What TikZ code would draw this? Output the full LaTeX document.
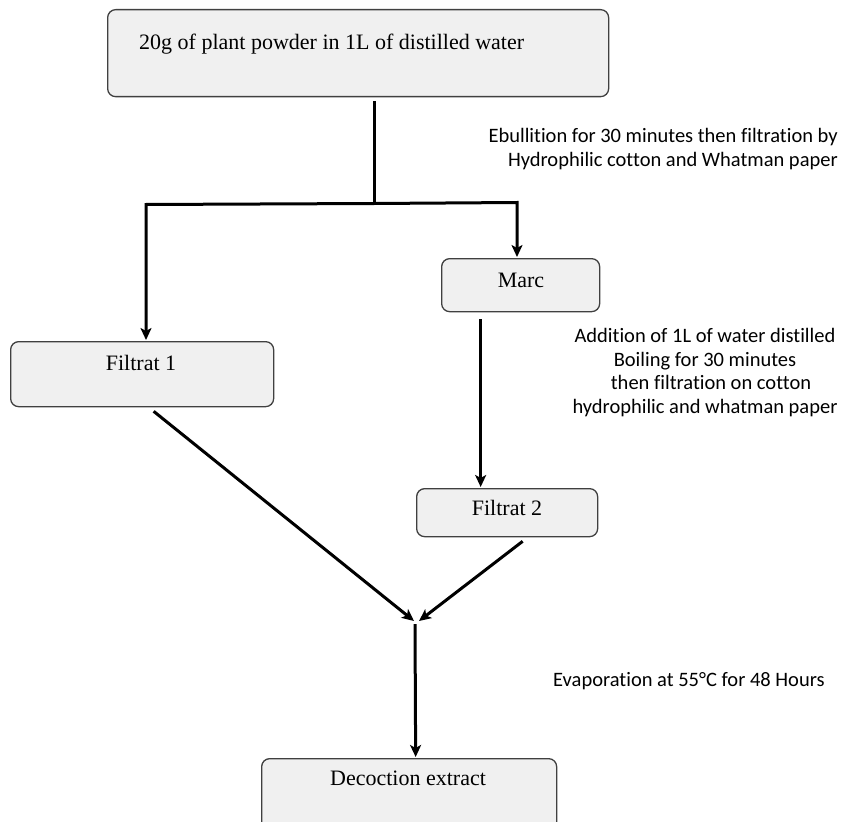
\documentclass[tikz,border=0pt]{standalone}
\usepackage{fontspec}
\setmainfont{Liberation Serif}
\newfontfamily\lblfont[Ligatures=NoCommon]{Carlito}
\usetikzlibrary{arrows.meta}
\begin{document}
\begin{tikzpicture}[x=1pt,y=-1pt,
  box/.style={draw=black!75, line width=1.3pt, fill=black!6, rounded corners=8pt, inner sep=0pt, anchor=north west},
  flow/.style={line width=3pt, line join=miter, -{Stealth[length=12pt,width=11pt,inset=3pt]}},
  plain/.style={line width=3pt},
  boxtext/.style={font=\fontsize{22}{26}\selectfont, inner sep=0pt},
  note/.style={font=\lblfont\fontsize{20.5}{23.5}\selectfont, inner sep=0pt}]
\useasboundingbox (0,0) rectangle (842,821);
% boxes
\node[box, minimum width=501pt, minimum height=87pt] (top) at (107,9) {};
\node[box, minimum width=158pt, minimum height=53pt] (marc) at (441,258) {};
\node[box, minimum width=263pt, minimum height=65pt] (f1) at (10,341) {};
\node[box, minimum width=181pt, minimum height=48pt] (f2) at (416,488) {};
\node[box, minimum width=295pt, minimum height=90pt] (dec) at (261,758) {};
% box texts
\node[boxtext, anchor=base west] (toptext) at (139,50) {20g of plant powder in 1L of distilled water};
\node[boxtext, anchor=base] (marctext) at (521,287) {Marc};
\node[boxtext, anchor=base] (f1text) at (141,370) {Filtrat 1};
\node[boxtext, anchor=base] (f2text) at (507,515) {Filtrat 2};
\node[boxtext, anchor=base] (dectext) at (408,785) {Decoction extract};
% connectors
\coordinate (split) at (374,203.5);
\coordinate (jl) at (146,204.5);
\coordinate (jr) at (517,202.5);
\draw[plain] ([yshift=-4pt]split |- top.south) -- (split);
\draw[flow] (split) -- (jl) -- ([yshift=1pt]jl |- f1.north);
\draw[flow] (split) -- (jr) -- ([yshift=1pt]jr |- marc.north);
\draw[flow] ([xshift=-40pt,yshift=-7pt]marc.south) -- ([xshift=-26.5pt,yshift=1pt]f2.north);
\coordinate (mL) at (414,621);
\coordinate (mR) at (419,621);
\coordinate (mB) at (415,624);
\draw[flow] ([xshift=11.5pt,yshift=-4pt]f1.south) -- (mL);
\draw[flow] ([xshift=15.5pt,yshift=-4pt]f2.south) -- (mR);
\draw[flow] (mB) -- ([xshift=6.5pt,yshift=1pt]dec.north);
% notes (base anchor = baseline of the last line)
\node[note, anchor=base east, align=right] (n1) at (838,166) {Ebullition for 30 minutes then filtration by\\Hydrophilic cotton and Whatman paper};
\node[note, anchor=base, align=center] (n2) at (705,413) {Addition of 1L of water distilled\\Boiling for 30 minutes\\\hspace*{12pt}then filtration on cotton\\hydrophilic and whatman paper};
\node[note, anchor=base west] (n3) at (553,686) {Evaporation at 55°C for 48 Hours};
\end{tikzpicture}
\end{document}
